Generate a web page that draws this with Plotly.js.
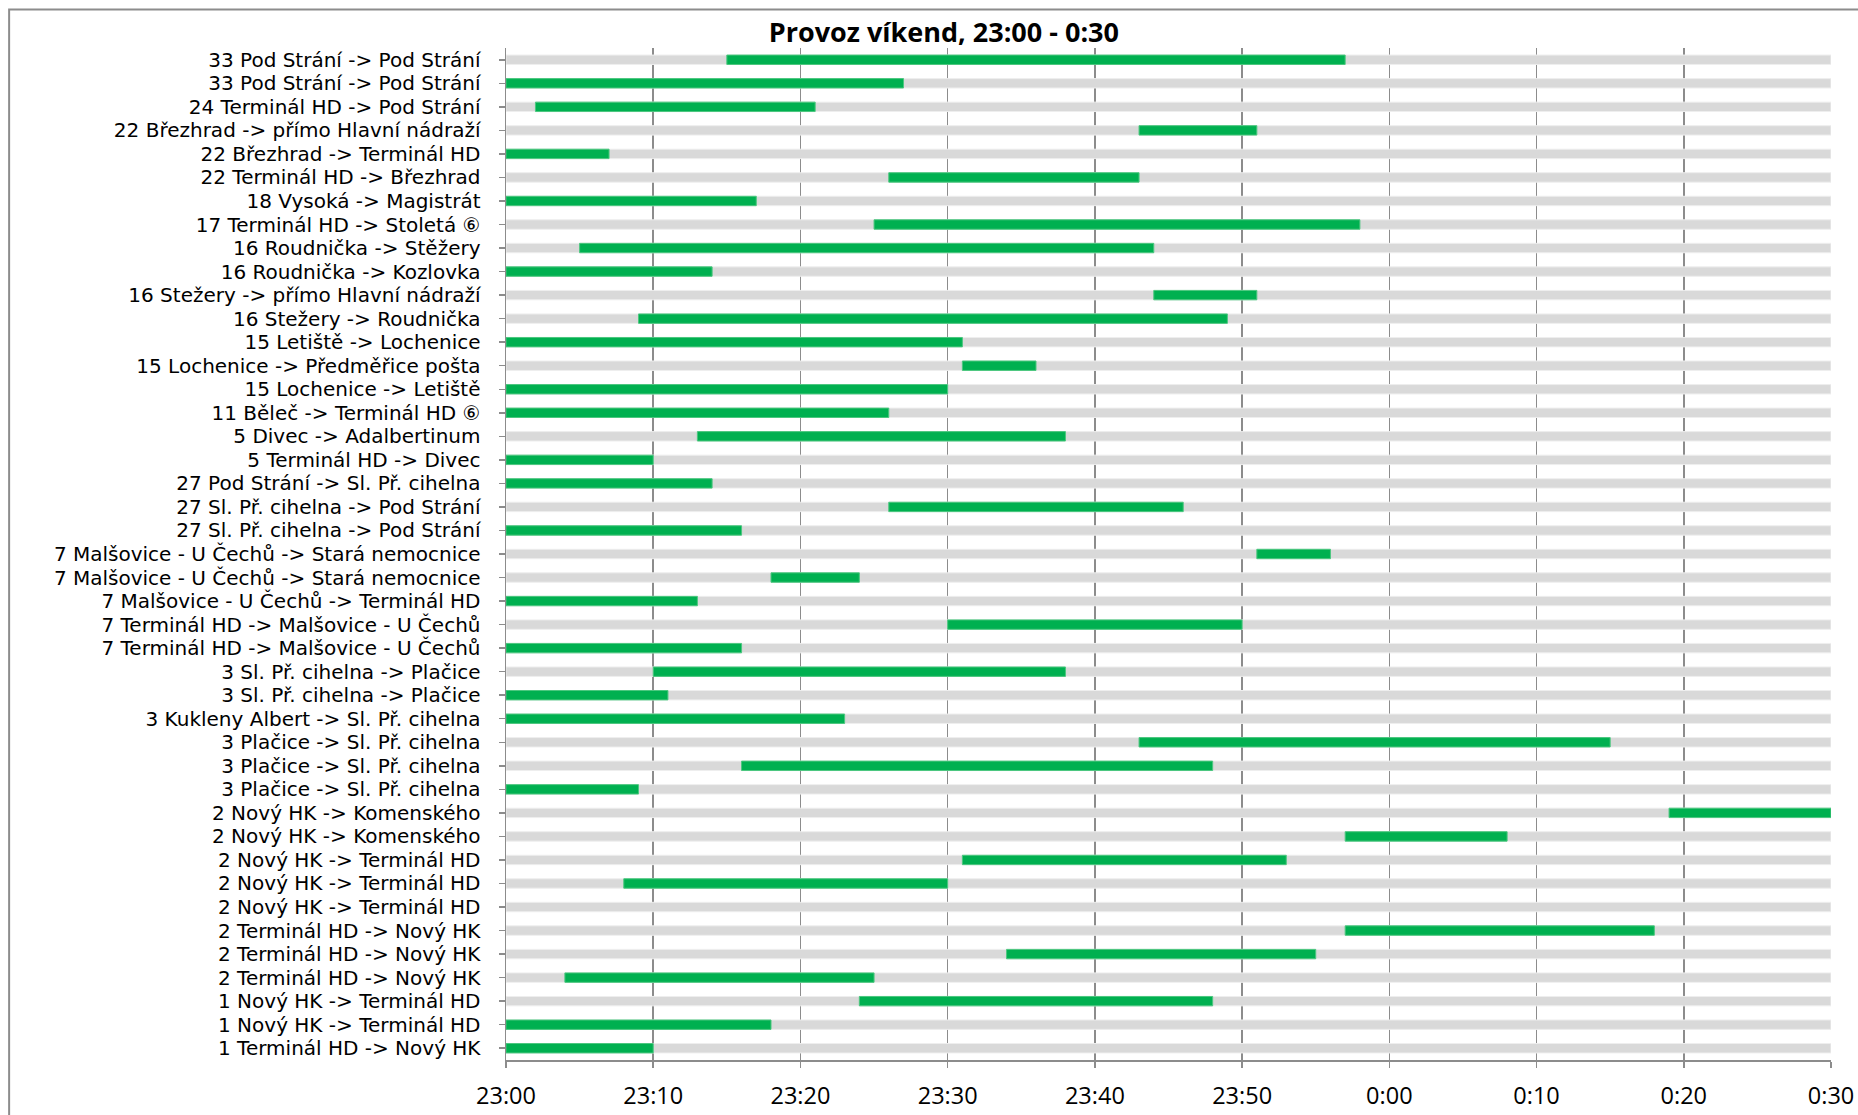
<!DOCTYPE html>
<html>
<head>
<meta charset="utf-8">
<script src="https://cdn.plot.ly/plotly-3.0.1.min.js"></script>
<style>
  html, body { margin: 0; padding: 0; background: #ffffff; }
  #chart { width: 1858px; height: 1115px; }
</style>
</head>
<body>
<div id="chart"></div>
<script>
// Row labels, top to bottom
const labels = [
  "33 Pod Strání -> Pod Strání",
  "33 Pod Strání -> Pod Strání",
  "24 Terminál HD -> Pod Strání",
  "22 Březhrad -> přímo Hlavní nádraží",
  "22 Březhrad -> Terminál HD",
  "22 Terminál HD -> Březhrad",
  "18 Vysoká -> Magistrát",
  "17 Terminál HD -> Stoletá \u2465",
  "16 Roudnička -> Stěžery",
  "16 Roudnička -> Kozlovka",
  "16 Stežery -> přímo Hlavní nádraží",
  "16 Stežery -> Roudnička",
  "15 Letiště -> Lochenice",
  "15 Lochenice -> Předměřice pošta",
  "15 Lochenice -> Letiště",
  "11 Běleč -> Terminál HD \u2465",
  "5 Divec -> Adalbertinum",
  "5 Terminál HD -> Divec",
  "27 Pod Strání -> Sl. Př. cihelna",
  "27 Sl. Př. cihelna -> Pod Strání",
  "27 Sl. Př. cihelna -> Pod Strání",
  "7 Malšovice - U Čechů -> Stará nemocnice",
  "7 Malšovice - U Čechů -> Stará nemocnice",
  "7 Malšovice - U Čechů -> Terminál HD",
  "7 Terminál HD -> Malšovice - U Čechů",
  "7 Terminál HD -> Malšovice - U Čechů",
  "3 Sl. Př. cihelna -> Plačice",
  "3 Sl. Př. cihelna -> Plačice",
  "3 Kukleny Albert -> Sl. Př. cihelna",
  "3 Plačice -> Sl. Př. cihelna",
  "3 Plačice -> Sl. Př. cihelna",
  "3 Plačice -> Sl. Př. cihelna",
  "2 Nový HK -> Komenského",
  "2 Nový HK -> Komenského",
  "2 Nový HK -> Terminál HD",
  "2 Nový HK -> Terminál HD",
  "2 Nový HK -> Terminál HD",
  "2 Terminál HD -> Nový HK",
  "2 Terminál HD -> Nový HK",
  "2 Terminál HD -> Nový HK",
  "1 Nový HK -> Terminál HD",
  "1 Nový HK -> Terminál HD",
  "1 Terminál HD -> Nový HK"
];

// Start / end of each run, in minutes after 23:00 (null = no run in window)
const startMin = [15, 0, 2, 43, 0, 26, 0, 25, 5, 0, 44, 9, 0, 31, 0, 0, 13, 0, 0, 26, 0,
                  51, 18, 0, 30, 0, 10, 0, 0, 43, 16, 0, 79, 57, 31, 8, null, 57, 34, 4, 24, 0, 0];
const endMin   = [57, 27, 21, 51, 7, 43, 17, 58, 44, 14, 51, 49, 31, 36, 30, 26, 38, 10, 14, 46, 16,
                  56, 24, 13, 50, 16, 38, 11, 23, 75, 48, 9, 90, 68, 53, 30, null, 78, 55, 25, 48, 18, 10];

// Time window shown and axis ticks
const windowStart = 0;
const windowEnd = 90;
const tickMinutes = [0, 10, 20, 30, 40, 50, 60, 70, 80, 90];
const tickLabels = ["23:00", "23:10", "23:20", "23:30", "23:40", "23:50", "0:00", "0:10", "0:20", "0:30"];

const rowIdx = labels.map((_, i) => i);

const bgTrace = {
  type: 'bar',
  orientation: 'h',
  y: rowIdx,
  base: rowIdx.map(() => windowStart),
  x: rowIdx.map(() => windowEnd - windowStart),
  width: 0.4,
  marker: { color: '#d9d9d9', line: { color: '#eeeeee', width: 1 } },
  hoverinfo: 'skip',
  showlegend: false
};

const runTrace = {
  type: 'bar',
  orientation: 'h',
  y: rowIdx,
  base: startMin,
  x: startMin.map((s, i) => (s === null ? null : endMin[i] - s)),
  width: 0.4,
  marker: { color: '#00b050', line: { color: '#4cc77f', width: 1 } },
  showlegend: false
};

const font = "'Open Sans', 'DejaVu Sans', sans-serif";
const labelFont = "'DejaVu Sans', sans-serif";

const layout = {
  width: 1858,
  height: 1115,
  paper_bgcolor: '#ffffff',
  plot_bgcolor: '#ffffff',
  margin: { l: 506, r: 27, t: 48, b: 55 },
  barmode: 'overlay',
  showlegend: false,
  title: {
    text: '<b>Provoz víkend, 23:00 - 0:30</b>',
    font: { family: font, size: 27, color: '#000000' },
    x: 0.508, xanchor: 'center', xref: 'container',
    y: 0.971, yanchor: 'middle', yref: 'container'
  },
  xaxis: {
    range: [windowStart, windowEnd],
    tickvals: tickMinutes,
    ticktext: tickLabels,
    showgrid: true,
    gridcolor: '#8c8c8c',
    gridwidth: 1.5,
    zeroline: false,
    showline: true,
    linecolor: '#8c8c8c',
    linewidth: 1.5,
    ticks: 'outside',
    ticklen: 6,
    tickcolor: '#8c8c8c',
    tickwidth: 1.5,
    ticklabelstandoff: 8,
    tickfont: { family: font, size: 23.5, color: '#000000' },
    fixedrange: true
  },
  yaxis: {
    range: [labels.length - 0.5, -0.5],
    tickvals: rowIdx,
    ticktext: labels,
    showgrid: false,
    zeroline: false,
    showline: true,
    linecolor: '#8c8c8c',
    linewidth: 1.5,
    ticks: 'outside',
    ticklen: 6,
    tickcolor: '#8c8c8c',
    tickwidth: 1.5,
    ticklabelstandoff: 14,
    tickfont: { family: labelFont, size: 20, color: '#000000' },
    fixedrange: true
  },
  shapes: [
    {
      type: 'rect', xref: 'paper', yref: 'paper',
      x0: -0.375, x1: 1.2, y0: -0.2, y1: 1.038,
      line: { color: '#8c8c8c', width: 2 },
      fillcolor: 'rgba(0,0,0,0)', layer: 'below'
    }
  ]
};

Plotly.newPlot('chart', [bgTrace, runTrace], layout, { displayModeBar: false, staticPlot: true });
</script>
</body>
</html>
